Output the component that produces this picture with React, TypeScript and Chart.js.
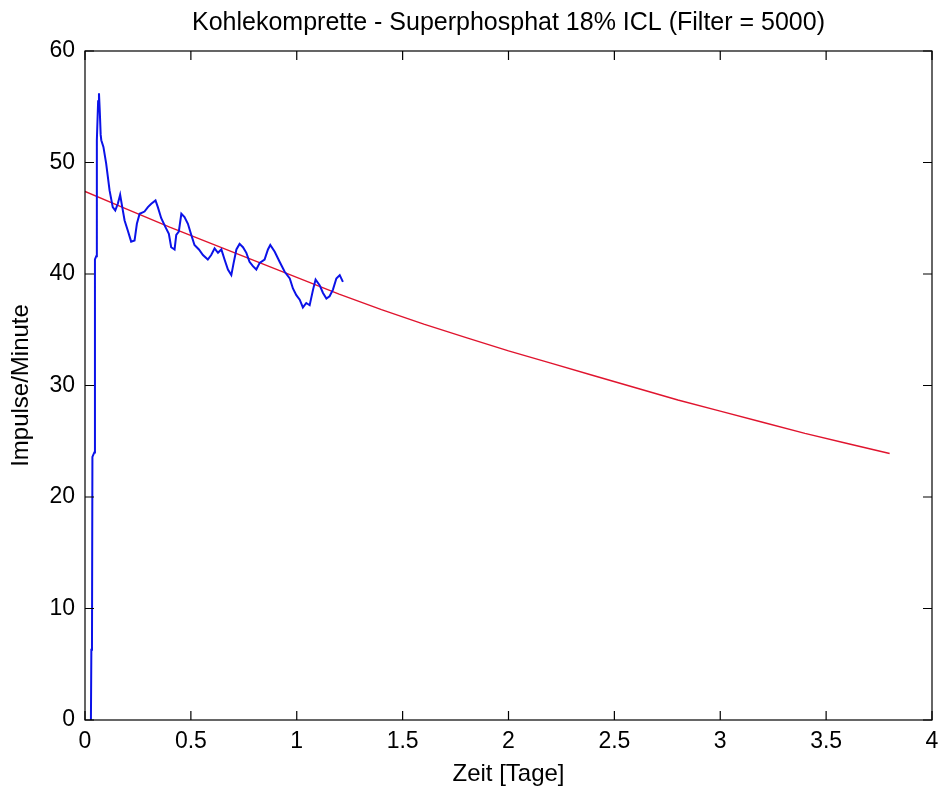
import React, { useEffect, useRef } from "react";
import { Chart, registerables } from "chart.js";

Chart.register(...registerables);

const chartTitle = "Kohlekomprette - Superphosphat 18% ICL (Filter = 5000)";
const xAxisTitle = "Zeit [Tage]";
const yAxisTitle = "Impulse/Minute";

const xMin = 0;
const xMax = 4;
const xStep = 0.5;
const yMin = 0;
const yMax = 60;
const yStep = 10;

// Measured counts (blue)
const blueX = [
  0.028, 0.03, 0.033, 0.035, 0.044, 0.047, 0.053, 0.056, 0.062, 0.066, 0.07, 0.074,
  0.077, 0.087, 0.1, 0.116, 0.131, 0.143, 0.155, 0.166, 0.176, 0.187, 0.202, 0.218,
  0.234, 0.245, 0.258, 0.281, 0.297, 0.313, 0.333, 0.344, 0.36, 0.38, 0.396, 0.407,
  0.423, 0.431, 0.443, 0.455, 0.47, 0.486, 0.502, 0.517, 0.538, 0.557, 0.58, 0.596,
  0.612, 0.628, 0.644, 0.659, 0.675, 0.691, 0.702, 0.715, 0.73, 0.746, 0.762, 0.777,
  0.793, 0.809, 0.825, 0.848, 0.864, 0.875, 0.896, 0.919, 0.943, 0.967, 0.982, 0.998,
  1.014, 1.029, 1.045, 1.061, 1.077, 1.089, 1.108, 1.124, 1.14, 1.155, 1.171, 1.187,
  1.203, 1.218,
];
const blueY = [
  0, 6.3, 6.5, 23.6, 24.0, 41.3, 41.6, 52.0, 55.5, 56.2, 54.5, 52.5,
  52.0, 51.4, 49.9, 47.5, 46.0, 45.7, 46.3, 47.1, 46.0, 44.8, 43.9, 42.9,
  43.0, 44.5, 45.4, 45.6, 46.0, 46.3, 46.6, 46.0, 45.0, 44.2, 43.6, 42.4,
  42.2, 43.5, 43.8, 45.4, 45.1, 44.5, 43.5, 42.6, 42.2, 41.7, 41.3, 41.7,
  42.3, 41.9, 42.2, 41.3, 40.4, 39.9, 41.0, 42.2, 42.7, 42.4, 41.9, 41.1,
  40.7, 40.4, 41.0, 41.3, 42.2, 42.6, 42.0, 41.1, 40.2, 39.6, 38.7, 38.1,
  37.7, 37.0, 37.4, 37.2, 38.6, 39.5, 39.0, 38.3, 37.8, 38.0, 38.6, 39.6,
  39.9, 39.3,
];

// Fitted decay curve (red)
const redX = [
  0, 0.2, 0.4, 0.6, 0.8, 1.0, 1.2, 1.4, 1.6, 1.8, 2.0, 2.2, 2.4, 2.6, 2.8, 3.0,
  3.2, 3.4, 3.6, 3.8,
];
const redY = [
  47.4, 45.8, 44.2, 42.7, 41.2, 39.7, 38.2, 36.8, 35.5, 34.3, 33.1, 32.0, 30.9,
  29.8, 28.7, 27.7, 26.7, 25.7, 24.8, 23.9,
];

const FONT = '"Liberation Sans", Arial, Helvetica, sans-serif';

const boxPlugin = {
  id: "matlabBox",
  afterDatasetsDraw(chart: any) {
    const { ctx, chartArea: a, scales } = chart;
    const len = 9;
    ctx.save();
    ctx.strokeStyle = "#000";
    ctx.lineWidth = 1.2;
    ctx.strokeRect(a.left, a.top, a.right - a.left, a.bottom - a.top);
    ctx.beginPath();
    scales.x.ticks.forEach((t: any) => {
      const px = scales.x.getPixelForValue(t.value);
      ctx.moveTo(px, a.bottom);
      ctx.lineTo(px, a.bottom - len);
      ctx.moveTo(px, a.top);
      ctx.lineTo(px, a.top + len);
    });
    scales.y.ticks.forEach((t: any) => {
      const py = scales.y.getPixelForValue(t.value);
      ctx.moveTo(a.left, py);
      ctx.lineTo(a.left + len, py);
      ctx.moveTo(a.right, py);
      ctx.lineTo(a.right - len, py);
    });
    ctx.stroke();
    ctx.restore();
  },
};

export default function App() {
  const ref = useRef<HTMLCanvasElement | null>(null);

  useEffect(() => {
    document.body.style.margin = "0";
    document.body.style.background = "#ffffff";
    const canvas = ref.current;
    if (!canvas) return;
    const blue = blueX.map((x, i) => ({ x, y: blueY[i] }));
    const red = redX.map((x, i) => ({ x, y: redY[i] }));
    const chart = new Chart(canvas, {
      type: "line",
      data: {
        datasets: [
          {
            label: "Messung",
            data: blue,
            borderColor: "#0b12e8",
            borderWidth: 2,
            pointRadius: 0,
            tension: 0,
          },
          {
            label: "Fit",
            data: red,
            borderColor: "#e0142e",
            borderWidth: 1.4,
            pointRadius: 0,
            tension: 0,
          },
        ],
      },
      plugins: [boxPlugin],
      options: {
        animation: false,
        responsive: false,
        events: [],
        layout: { padding: { left: 0, right: 8, top: 0, bottom: 0 } },
        plugins: {
          legend: { display: false },
          tooltip: { enabled: false },
          title: {
            display: true,
            fullSize: false,
            text: chartTitle,
            color: "#000",
            font: { family: FONT, size: 25, weight: "normal" },
            padding: { top: 8, bottom: 13 },
          },
        },
        scales: {
          x: {
            type: "linear",
            min: xMin,
            max: xMax,
            ticks: {
              stepSize: xStep,
              color: "#000",
              font: { family: FONT, size: 23 },
              padding: 8,
              maxRotation: 0,
              callback: (v: any) => String(Number(v)),
            },
            grid: { display: false, drawTicks: false },
            border: { display: false },
            title: {
              display: true,
              text: xAxisTitle,
              color: "#000",
              font: { family: FONT, size: 24 },
              padding: { top: 0, bottom: 0 },
            },
            afterFit: (s: any) => {
              s.height = 69;
              s.paddingLeft = 0;
              s.paddingRight = 0;
            },
          },
          y: {
            type: "linear",
            min: yMin,
            max: yMax,
            ticks: {
              stepSize: yStep,
              color: "#000",
              font: { family: FONT, size: 23 },
              padding: 10,
              callback: (v: any) => String(Number(v)),
            },
            grid: { display: false, drawTicks: false },
            border: { display: false },
            title: {
              display: true,
              text: yAxisTitle,
              color: "#000",
              font: { family: FONT, size: 24 },
              padding: { top: 7, bottom: 0 },
            },
            afterFit: (s: any) => {
              s.width = 85;
            },
          },
        },
      },
    });
    return () => chart.destroy();
  }, []);

  return <canvas ref={ref} width={940} height={789} style={{ display: "block" }} />;
}
